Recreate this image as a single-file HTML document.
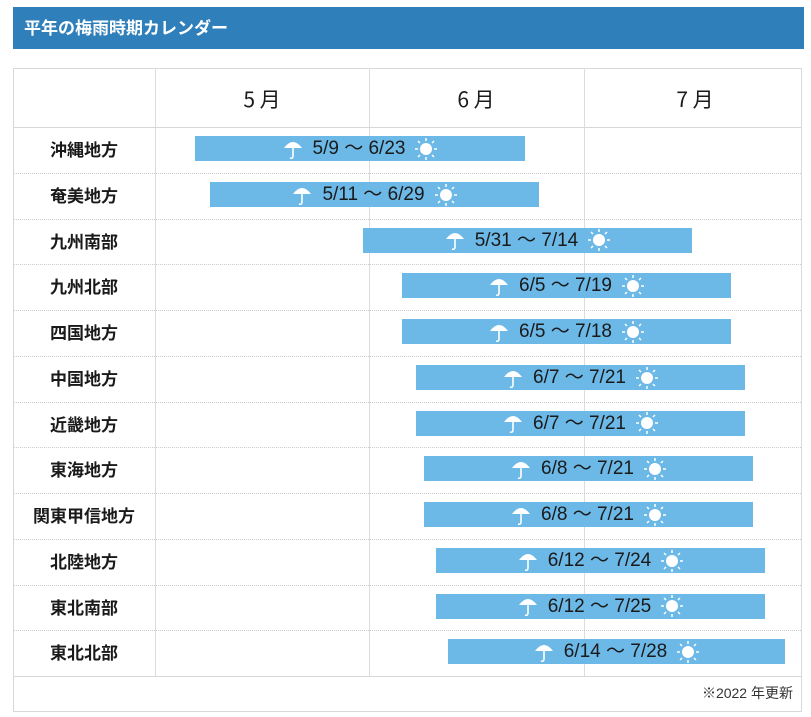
<!DOCTYPE html>
<html><head><meta charset="utf-8"><style>
body{margin:0;width:811px;height:717px;background:#fff;position:relative;overflow:hidden;font-family:"Liberation Sans","Noto Sans CJK JP",sans-serif;color:#1a1a1a}
.a{position:absolute}
.title{left:13px;top:7px;width:791px;height:42px;background:#2f7fbb;color:#fff;font-weight:bold;font-size:17px;line-height:40px;box-sizing:border-box;padding-left:11px;font-family:"Noto Sans CJK JP",sans-serif}
.tbl{left:13px;top:68px;width:789px;height:644px;border:1px solid #d8d8d8;box-sizing:border-box}
.vl{width:1px;background:#dcdcdc}
.hl{height:0;border-top:1px dotted #ccc}
.mon{font-size:21px;text-align:center;width:214px;top:84px;font-family:"Noto Sans CJK JP",sans-serif;font-weight:400}
.lab{left:13px;width:142px;text-align:center;font-weight:bold;font-size:17px;font-family:"Noto Sans CJK JP",sans-serif}
.bar{height:25px;background:#6cb8e6;font-size:19px;line-height:25px;text-align:center;white-space:nowrap}
.bar svg{vertical-align:middle;margin:0 10px}
</style></head><body>
<div class="a title">平年の梅雨時期カレンダー</div>
<div class="a tbl"></div>
<div class="a vl" style="left:155px;top:68px;height:608px"></div>
<div class="a vl" style="left:369px;top:68px;height:608px"></div>
<div class="a vl" style="left:584px;top:68px;height:608px"></div>
<div class="a" style="left:13px;top:127px;width:789px;height:1px;background:#d8d8d8"></div>
<div class="a" style="left:13px;top:676px;width:789px;height:1px;background:#d8d8d8"></div>
<div class="a mon" style="left:155px">5 月</div>
<div class="a mon" style="left:369px">6 月</div>
<div class="a mon" style="left:588px">7 月</div>
<div class="a" style="right:18px;top:683px;font-size:14px;color:#333">※2022 年更新</div>
<div id="rows"></div>
<script>
var d=[["沖縄地方",195,525,"5/9 〜 6/23"],["奄美地方",210,539,"5/11 〜 6/29"],["九州南部",363,692,"5/31 〜 7/14"],["九州北部",402,731,"6/5 〜 7/19"],["四国地方",402,731,"6/5 〜 7/18"],["中国地方",416,745,"6/7 〜 7/21"],["近畿地方",416,745,"6/7 〜 7/21"],["東海地方",424,753,"6/8 〜 7/21"],["関東甲信地方",424,753,"6/8 〜 7/21"],["北陸地方",436,765,"6/12 〜 7/24"],["東北南部",436,765,"6/12 〜 7/25"],["東北北部",448,785,"6/14 〜 7/28"]];
var um='<svg width="20" height="22" viewBox="0 0 20 22"><path d="M1 10 Q10 -2 19 10 Z" fill="#fff"/><path d="M10 9 V18 Q10 21 7 20" stroke="#fff" stroke-width="1.6" fill="none"/></svg>';
var sun='<svg width="22" height="22" viewBox="0 0 22 22"><circle cx="11" cy="11" r="6" fill="#fff"/><g stroke="#fff" stroke-width="1.5"><line x1="11" y1="0" x2="11" y2="3"/><line x1="11" y1="19" x2="11" y2="22"/><line x1="0" y1="11" x2="3" y2="11"/><line x1="19" y1="11" x2="22" y2="11"/><line x1="3" y1="3" x2="5" y2="5"/><line x1="17" y1="17" x2="19" y2="19"/><line x1="19" y1="3" x2="17" y2="5"/><line x1="3" y1="19" x2="5" y2="17"/></g></svg>';
var h="";
for(var i=0;i<d.length;i++){var t=127+i*45.75;
h+='<div class="a lab" style="top:'+(t+9)+'px">'+d[i][0]+'</div>';
h+='<div class="a bar" style="left:'+d[i][1]+'px;width:'+(d[i][2]-d[i][1])+'px;top:'+(t+9)+'px">'+um+d[i][3]+sun+'</div>';
if(i>0)h+='<div class="a hl" style="left:14px;width:787px;top:'+t+'px"></div>';}
document.getElementById("rows").innerHTML=h;
</script>
</body></html>
